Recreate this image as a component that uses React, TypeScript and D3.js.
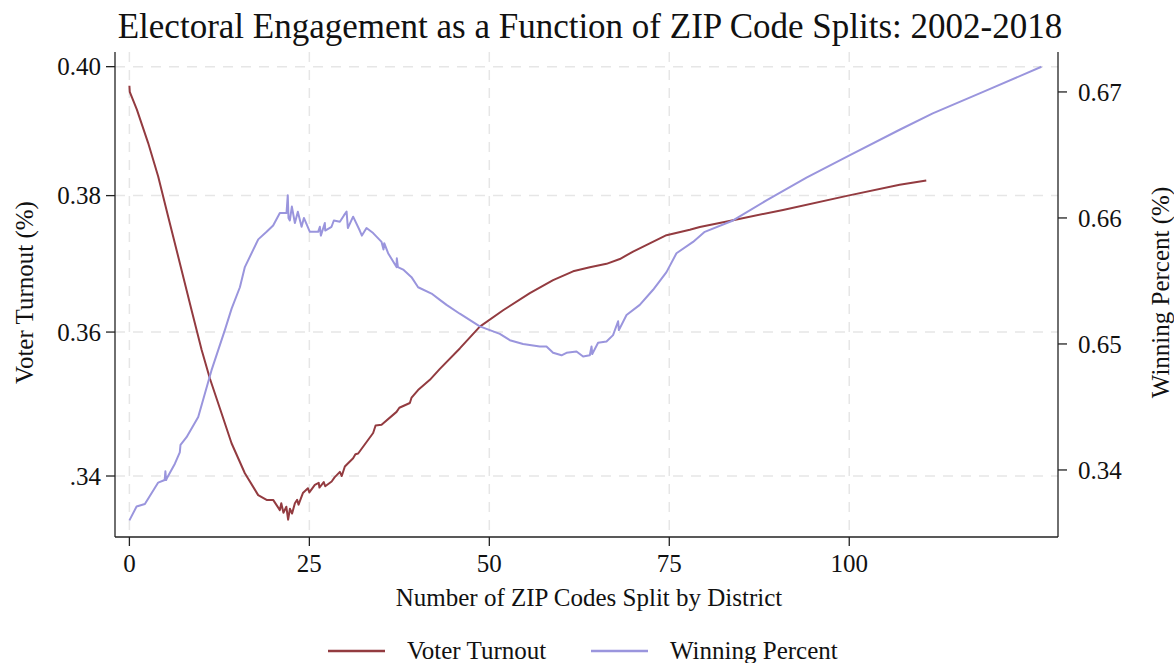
import React from "react";
import * as d3 from "d3";

// ---- Data ----
const turnoutX = [0, 0.05, 1.04, 2.61, 4.0, 5.39, 7.01, 8.64, 10.03, 11.18, 12.8, 14.19, 16.04, 17.89, 19.06, 19.97, 20.9, 21.1, 21.4, 21.8, 22.05, 22.3, 22.6, 22.99, 23.3, 23.5, 24.1, 24.8, 25.0, 25.76, 26.3, 26.4, 27.0, 27.2, 28.1, 28.5, 29.24, 29.5, 29.93, 31.08, 31.4, 31.78, 33.86, 34.2, 35.03, 37.11, 37.5, 38.96, 39.2, 40.1, 41.74, 43.13, 45.9, 48.68, 51.92, 55.63, 58.86, 61.64, 63.96, 66.28, 68.13, 69.97, 72.29, 74.61, 77.85, 79.24, 83.86, 90.8, 99.83, 107.0, 110.7];
const turnoutY = [0.3972, 0.3963, 0.3937, 0.3888, 0.3839, 0.378, 0.3712, 0.3643, 0.3585, 0.3543, 0.3492, 0.3448, 0.3404, 0.3372, 0.3365, 0.3365, 0.335, 0.336, 0.3346, 0.3355, 0.3336, 0.3352, 0.3345, 0.336, 0.3365, 0.3358, 0.3375, 0.3382, 0.3376, 0.3387, 0.339, 0.3383, 0.3391, 0.3385, 0.3392, 0.3398, 0.3406, 0.34, 0.3414, 0.3426, 0.3432, 0.3433, 0.3463, 0.3474, 0.3475, 0.3494, 0.35, 0.3507, 0.3515, 0.3526, 0.3541, 0.3557, 0.3587, 0.3619, 0.3643, 0.3668, 0.3687, 0.37, 0.3706, 0.3711, 0.3718, 0.3729, 0.3741, 0.3753, 0.3761, 0.3765, 0.3775, 0.379, 0.3811, 0.3827, 0.3833];

const winX = [0, 1.0, 2.15, 4.0, 4.9, 5.0, 5.1, 5.17, 6.32, 7.0, 7.1, 7.94, 9.56, 11.4, 13.26, 14.2, 15.35, 16.04, 17.9, 19.06, 19.97, 20.9, 21.83, 22.0, 22.1, 22.29, 22.57, 22.99, 23.4, 23.92, 24.24, 25.07, 26.22, 26.46, 26.6, 27.15, 27.2, 28.08, 28.4, 29.24, 29.8, 30.17, 30.35, 31.08, 32.0, 32.3, 32.94, 33.86, 35.03, 35.3, 35.4, 35.94, 37.11, 37.15, 37.3, 38.03, 39.19, 40.11, 41.97, 43.13, 44.06, 45.9, 48.68, 50.07, 51.46, 52.85, 54.69, 57.01, 57.94, 58.86, 60.03, 60.72, 62.11, 63.03, 63.96, 64.2, 64.3, 65.11, 66.28, 67.19, 67.89, 68.0, 69.06, 70.9, 72.75, 74.61, 76.0, 78.3, 79.93, 83.86, 88.5, 94.06, 99.83, 107.0, 111.6, 118.6, 126.7];
const winY = [0.636, 0.6371, 0.6373, 0.639, 0.6392, 0.6399, 0.6392, 0.6393, 0.6405, 0.6414, 0.642, 0.6426, 0.6442, 0.6479, 0.6511, 0.6528, 0.6545, 0.6561, 0.6583, 0.6589, 0.6594, 0.6604, 0.6604, 0.6618, 0.66, 0.6598, 0.6609, 0.6596, 0.6605, 0.6593, 0.66, 0.6589, 0.6589, 0.6593, 0.6586, 0.6596, 0.659, 0.6593, 0.6598, 0.6597, 0.6602, 0.6605, 0.6592, 0.6601, 0.659, 0.6586, 0.6592, 0.6588, 0.6581, 0.6575, 0.658, 0.6572, 0.6561, 0.6568, 0.6561, 0.6559, 0.6553, 0.6545, 0.654, 0.6535, 0.6531, 0.6524, 0.6514, 0.6511, 0.6508, 0.6503, 0.65, 0.6498, 0.6498, 0.6493, 0.6491, 0.6493, 0.6494, 0.649, 0.6491, 0.6498, 0.6492, 0.6501, 0.6502, 0.6507, 0.6518, 0.6511, 0.6523, 0.6531, 0.6543, 0.6557, 0.6572, 0.6581, 0.6589, 0.6598, 0.6614, 0.6632, 0.6649, 0.667, 0.6683, 0.67, 0.672];

const xTicks = [0, 25, 50, 75, 100];
const leftTickValues = [0.4, 0.3811, 0.3611, 0.34];
const leftTickLabels = ["0.40", "0.38", "0.36", ".34"];
const rightTickValues = [0.67, 0.66, 0.65, 0.64];
const rightTickLabels = ["0.67", "0.66", "0.65", "0.34"];

const seriesNames = ["Voter Turnout", "Winning Percent"];
const colors = ["#933b40", "#9a95dd"];

const TITLE = "Electoral Engagement as a Function of ZIP Code Splits: 2002-2018";
const X_TITLE = "Number of ZIP Codes Split by District";
const Y_LEFT_TITLE = "Voter Turnout (%)";
const Y_RIGHT_TITLE = "Winning Percent (%)";

export default function App() {
  const W = 1174, H = 663;
  const left = 115, right = 1058, top = 52, bottom = 537;
  const font = "'Liberation Serif', 'Times New Roman', serif";

  const x = d3.scaleLinear().domain([-2, 129]).range([left, right]);
  const yL = d3.scaleLinear().domain([0.33106, 0.40215]).range([bottom, top]);
  const yR = d3.scaleLinear().domain([0.63468, 0.67317]).range([bottom, top]);

  const turnout = turnoutX.map((v, i) => [v, turnoutY[i]] as [number, number]);
  const win = winX.map((v, i) => [v, winY[i]] as [number, number]);

  const lineL = d3.line<[number, number]>().x(d => x(d[0])).y(d => yL(d[1]));
  const lineR = d3.line<[number, number]>().x(d => x(d[0])).y(d => yR(d[1]));

  const grid = "#e6e6e6";
  const axisColor = "#222";
  const midY = (top + bottom) / 2;

  return (
    <svg width={W} height={H} style={{ position: "absolute", left: 0, top: 0, background: "#fff" }} fontFamily={font}>
      <rect x={0} y={0} width={W} height={H} fill="#fff" />
      {/* gridlines */}
      {leftTickValues.map((v, i) => (
        <line key={"hg" + i} x1={left} x2={right} y1={yL(v)} y2={yL(v)} stroke={grid} strokeWidth={1.5} strokeDasharray="10 8" />
      ))}
      {xTicks.map((v, i) => (
        <line key={"vg" + i} x1={x(v)} x2={x(v)} y1={top} y2={bottom} stroke={grid} strokeWidth={1.5} strokeDasharray="10 8" />
      ))}

      {/* lines */}
      <path d={lineL(turnout) || ""} fill="none" stroke={colors[0]} strokeWidth={2} strokeLinejoin="round" />
      <path d={lineR(win) || ""} fill="none" stroke={colors[1]} strokeWidth={2} strokeLinejoin="round" />

      {/* axes */}
      <line x1={left} x2={left} y1={top} y2={bottom} stroke={axisColor} strokeWidth={1.3} />
      <line x1={right} x2={right} y1={top} y2={bottom} stroke={axisColor} strokeWidth={1.3} />
      <line x1={left} x2={right} y1={bottom} y2={bottom} stroke={axisColor} strokeWidth={1.3} />

      {leftTickValues.map((v, i) => (
        <g key={"lt" + i}>
          <line x1={left - 9} x2={left} y1={yL(v)} y2={yL(v)} stroke={axisColor} strokeWidth={1.3} />
          <text x={left - 14} y={yL(v)} dy="0.35em" textAnchor="end" fontSize={25} fill="#111">{leftTickLabels[i]}</text>
        </g>
      ))}
      {rightTickValues.map((v, i) => (
        <g key={"rt" + i}>
          <line x1={right} x2={right + 9} y1={yR(v)} y2={yR(v)} stroke={axisColor} strokeWidth={1.3} />
          <text x={right + 20} y={yR(v)} dy="0.35em" textAnchor="start" fontSize={25} fill="#111">{rightTickLabels[i]}</text>
        </g>
      ))}
      {xTicks.map((v, i) => (
        <g key={"xt" + i}>
          <line x1={x(v)} x2={x(v)} y1={bottom} y2={bottom + 9} stroke={axisColor} strokeWidth={1.3} />
          <text x={x(v)} y={bottom + 35} textAnchor="middle" fontSize={25} fill="#111">{v}</text>
        </g>
      ))}

      {/* titles */}
      <text x={590} y={38} textAnchor="middle" fontSize={35} fill="#111">{TITLE}</text>
      <text x={589} y={606} textAnchor="middle" fontSize={25} fill="#111">{X_TITLE}</text>
      <text transform={`translate(33,${midY - 2}) rotate(-90)`} textAnchor="middle" fontSize={25} fill="#111">{Y_LEFT_TITLE}</text>
      <text transform={`translate(1169,${midY - 2}) rotate(-90)`} textAnchor="middle" fontSize={25} fill="#111">{Y_RIGHT_TITLE}</text>

      {/* legend */}
      {seriesNames.map((n, i) => {
        const lx = i === 0 ? 328 : 591;
        return (
          <g key={"lg" + i}>
            <line x1={lx} x2={lx + 57} y1={651} y2={651} stroke={colors[i]} strokeWidth={2.5} />
            <text x={lx + 79} y={659} fontSize={25} fill="#111">{n}</text>
          </g>
        );
      })}
    </svg>
  );
}
